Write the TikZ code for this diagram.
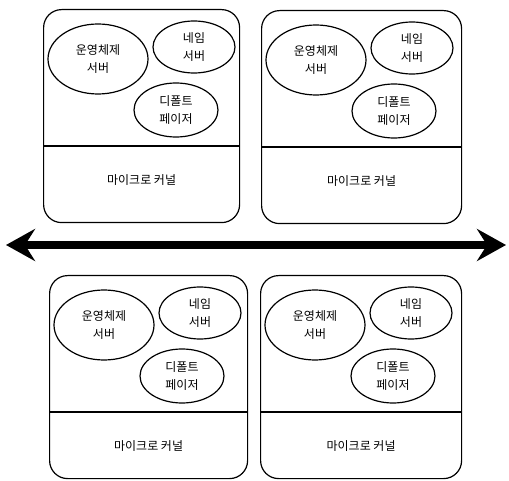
\documentclass[tikz,border=0pt]{standalone}
\usepackage{fontspec}
\setmainfont{Noto Sans CJK KR}
\usetikzlibrary{shapes.geometric,arrows.meta,calc}

\def\dividersep{137}

\begin{document}
\begin{tikzpicture}[x=1pt,y=-1pt,line width=1.2pt]
    \tikzstyle{kernel box}=[draw,rounded corners=18pt,anchor=north west,inner sep=0pt]
    \tikzstyle{server}=[draw,ellipse,inner sep=0pt,align=center,font=\fontsize{12}{18}\selectfont]
    \tikzstyle{os server}=[server,minimum width=100pt,minimum height=70pt]
    \tikzstyle{name server}=[server,minimum width=82pt,minimum height=52pt]
    \tikzstyle{pager}=[server,minimum width=84pt,minimum height=54pt]
    \tikzstyle{kernel}=[font=\fontsize{12}{18}\selectfont]
    \tikzstyle{divider}=[line width=2pt]
    \tikzstyle{stem}=[line width=2pt]
    \tikzstyle{bus}=[line width=8pt,
        {Stealth[length=29pt,width=32pt,inset=10pt]}-{Stealth[length=29pt,width=32pt,inset=10pt]}]

    \useasboundingbox (0,0) rectangle (509,481);

    % The bus
    \coordinate (busW) at (6,245);
    \coordinate (busE) at (506,245);

    % Draw the four hosts
    \foreach \name/\x/\y/\w/\h/\s in {tl/43/9/196/213/13, tr/261/10/200/213/20,
                                      bl/49/275/198/203/-15, br/260/275/201/203/-22} {
        \node[kernel box,minimum width=\w pt,minimum height=\h pt] (\name) at (\x,\y) {};
        \draw[divider] ($(\name.north west)+(0,\dividersep)$) -- ($(\name.north east)+(0,\dividersep)$);
        \node[kernel] (\name-k) at ($(\name.north)+(0,\dividersep+34)$) {마이크로 커널};
        \node[os server] (\name-os) at ($(\name.north west)+(55,50)$) {운영체제\\서버};
        \node[name server] (\name-ns) at ($(\name.north west)+(151,38)$) {네임\\서버};
        \node[pager] (\name-dp) at ($(\name.north west)+(133,101)$) {디폴트\\페이저};
        % Connect the host to the bus
        \draw[stem] ($(\name.south)+(\s,0)$) -- ($(\name.south)+(\s,0)$ |- busW);
    }

    \draw[bus] (busW) -- (busE);
\end{tikzpicture}
\end{document}
